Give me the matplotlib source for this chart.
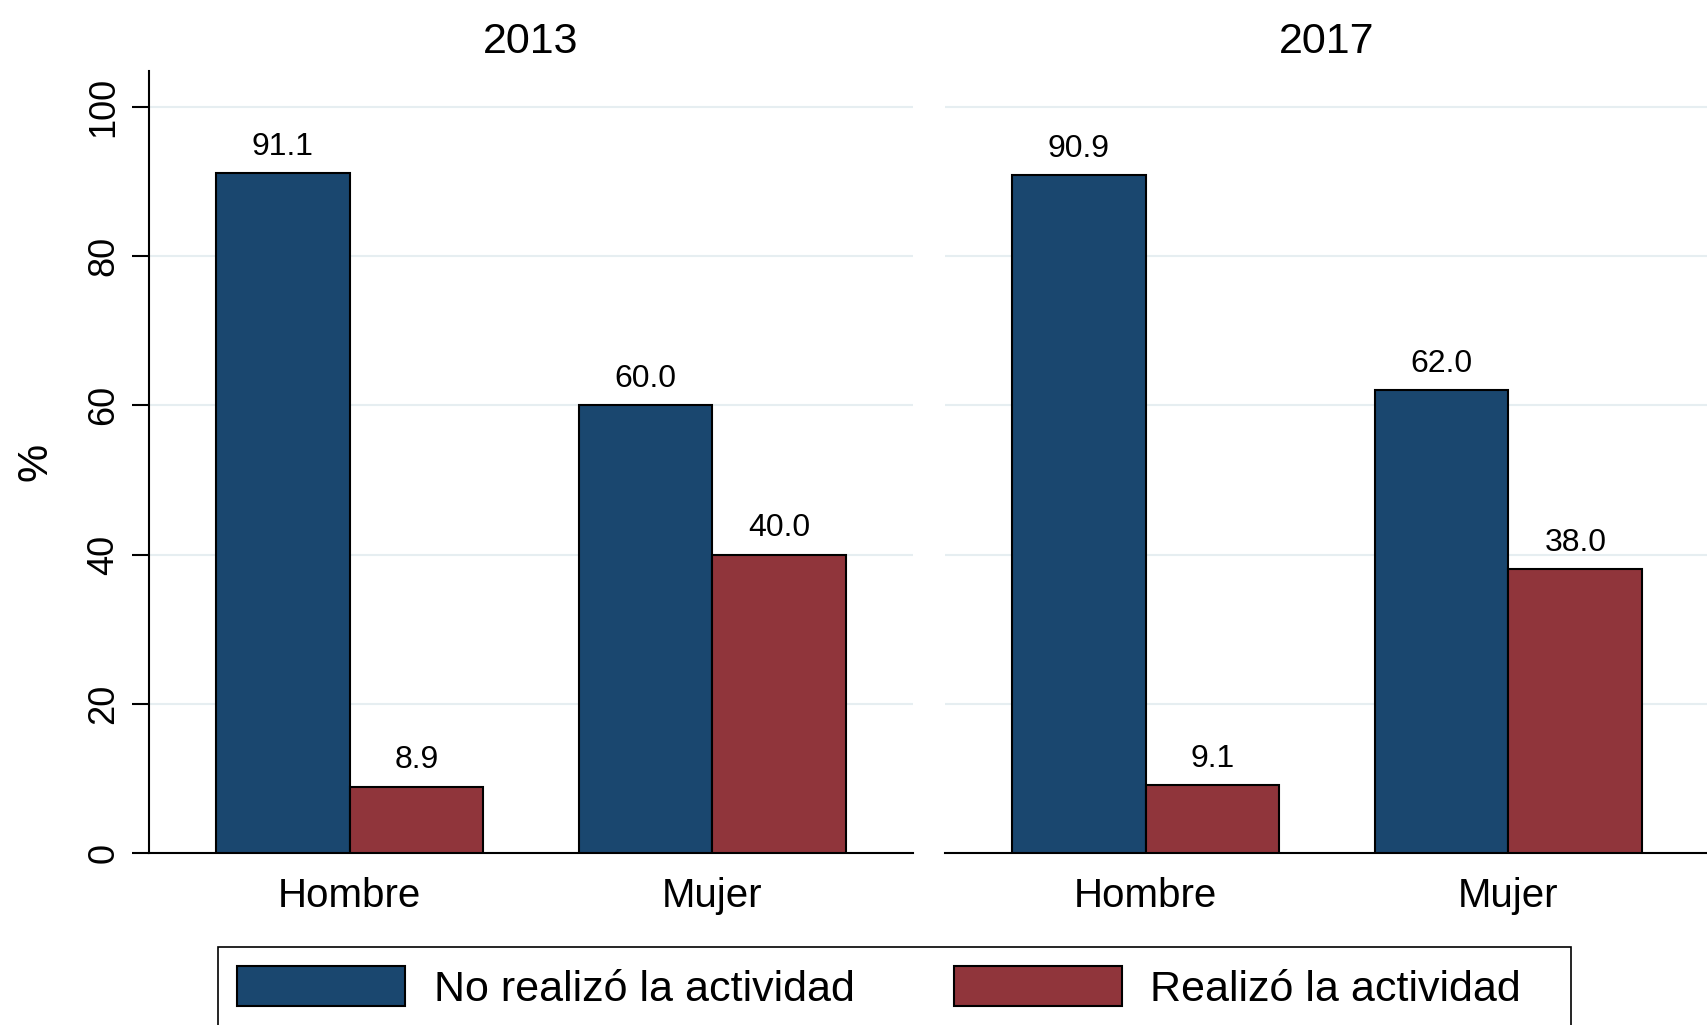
import numpy as np
import matplotlib
matplotlib.use("Agg")
from matplotlib import pyplot as plt
from matplotlib.patches import Patch, Rectangle

plt.rcParams['font.family'] = ['Liberation Sans', 'DejaVu Sans']

years = ["2013", "2017"]
groups = ["Hombre", "Mujer"]
no_realizo = {"2013": [91.1, 60.0], "2017": [90.9, 62.0]}
realizo = {"2013": [8.9, 40.0], "2017": [9.1, 38.0]}
legend_labels = ["No realizó la actividad", "Realizó la actividad"]

blue = "#1a476f"
red = "#90353b"
gridc = "#e6eef1"

W, H = 1708, 1025
fig = plt.figure(figsize=(W / 100, H / 100), dpi=100)

def rect(left, right, top, bottom):
    return [left / W, 1 - bottom / H, (right - left) / W, (bottom - top) / H]

axes = [fig.add_axes(rect(149, 913, 71, 853)),
        fig.add_axes(rect(945, 1709, 71, 853))]

x = np.arange(len(groups))
bw = 0.369
for i, (ax, yr) in enumerate(zip(axes, years)):
    b1 = ax.bar(x - bw / 2, no_realizo[yr], bw, color=blue, edgecolor="black", linewidth=1.5, zorder=3)
    b2 = ax.bar(x + bw / 2, realizo[yr], bw, color=red, edgecolor="black", linewidth=1.5, zorder=3)
    ax.bar_label(b1, fmt="%.1f", padding=8, fontsize=23)
    ax.bar_label(b2, fmt="%.1f", padding=8, fontsize=23)
    ax.set_xlim(-0.553, 1.553)
    ax.set_ylim(0, 104.8)
    ax.set_yticks([0, 20, 40, 60, 80, 100])
    ax.set_xticks(x)
    ax.set_xticklabels(groups, fontsize=29)
    ax.tick_params(axis="x", length=0, pad=17)
    ax.grid(axis="y", color=gridc, linewidth=1.5, zorder=0)
    ax.set_axisbelow(True)
    ax.set_title(yr, fontsize=31, pad=13)
    for s in ["top", "right"]:
        ax.spines[s].set_visible(False)
    ax.spines["bottom"].set_linewidth(1.5)
    if i == 0:
        ax.spines["left"].set_linewidth(1.5)
        ax.tick_params(axis="y", labelsize=26, labelrotation=90, length=12, width=1.5, pad=8)
        for lab in ax.get_yticklabels():
            lab.set_va("center")
        ax.set_ylabel("%", fontsize=31, va="center")
        ax.yaxis.set_label_coords(-0.148, 0.5)
    else:
        ax.spines["left"].set_visible(False)
        ax.tick_params(axis="y", left=False, labelleft=False)

handles = [Patch(facecolor=blue, edgecolor="black", linewidth=1.5),
           Patch(facecolor=red, edgecolor="black", linewidth=1.5)]
leg = fig.legend(handles, legend_labels, loc="upper left",
                 bbox_to_anchor=(218 / W, 1 - 947 / H), ncol=2, fontsize=31,
                 frameon=False,
                 borderpad=0.44, handlelength=3.9, handleheight=1.05,
                 handletextpad=0.67, columnspacing=2.3, borderaxespad=0)

# legend frame, wider than matplotlib's natural box, runs off the bottom edge
fig.patches.append(Rectangle((218 / W, -0.05), (1571 - 218) / W, 0.05 + 78 / H,
                             transform=fig.transFigure, fill=False,
                             edgecolor="black", linewidth=1.2))

fig.savefig("out.png", dpi=100)
